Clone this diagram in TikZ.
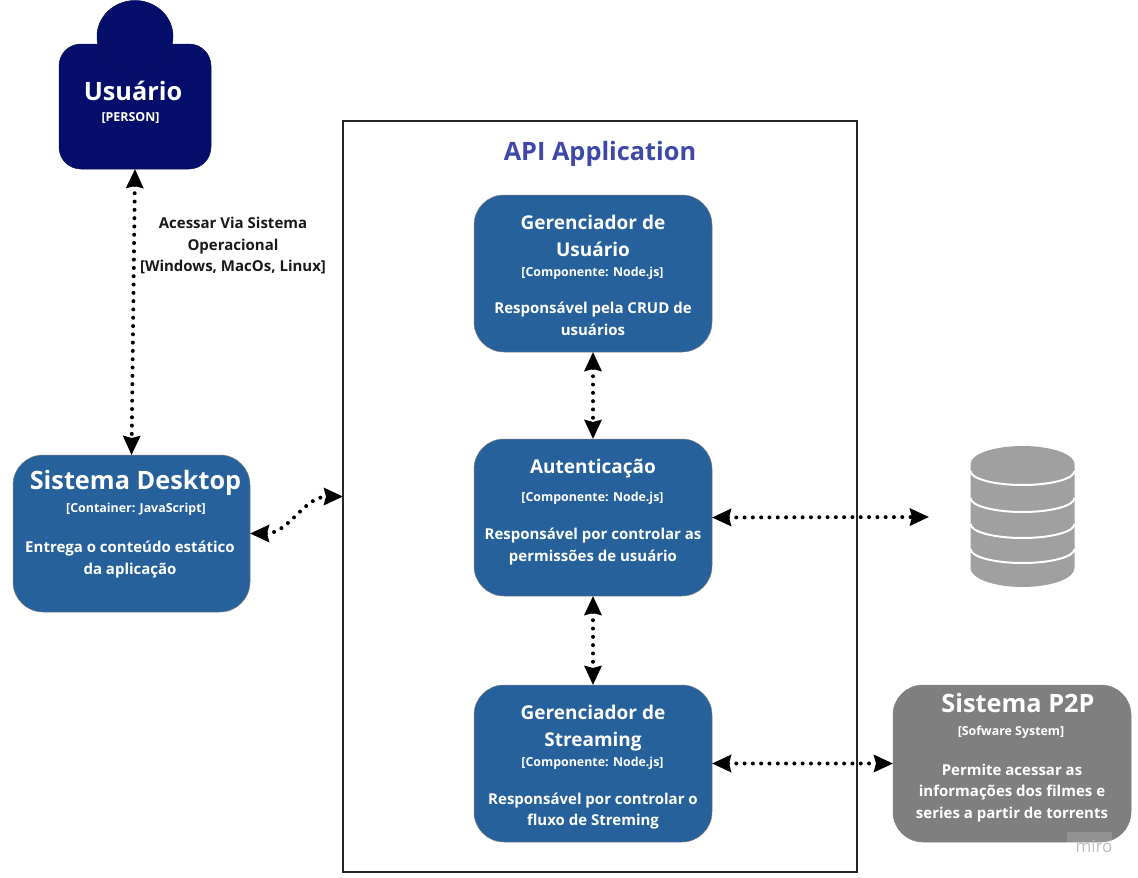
\documentclass[tikz,border=0pt]{standalone}
\usepackage{fontspec}
\setmainfont{Open Sans}
\usetikzlibrary{arrows.meta, shapes.geometric}
\definecolor{azulcaixa}{HTML}{26619C}
\definecolor{azulpessoa}{HTML}{050F6B}
\definecolor{cinzap2p}{HTML}{7F7F7F}
\definecolor{cinzabase}{HTML}{A0A0A0}
\definecolor{azulapi}{HTML}{3F48A8}
\begin{document}
\begin{tikzpicture}[x=1pt, y=1pt, yscale=-1]
	\tikzset{caixa/.style={draw=black!50, line width=0.5pt, fill=azulcaixa, rounded corners=30pt, minimum width=238pt, minimum height=157pt, outer sep=0pt},
		texto/.style={text=white, align=center, inner sep=0pt, font=\bfseries},
		grande/.style={texto, font=\bfseries\fontsize{25.3}{30}\selectfont},
		titulo/.style={texto, font=\bfseries\fontsize{19}{27}\selectfont},
		tipo/.style={texto, font=\bfseries\fontsize{12.4}{15}\selectfont},
		descricao/.style={texto, font=\bfseries\fontsize{15}{21.5}\selectfont},
		seta/.style={{Stealth[length=19pt, width=17pt, inset=2pt]}-{Stealth[length=19pt, width=17pt, inset=2pt]}, line width=4pt, line cap=round, dash pattern=on 0pt off 8.3pt, black}};

	\useasboundingbox (0,0) rectangle (1138,878);

	\node[draw=black!85, line width=2pt, minimum width=514pt, minimum height=751pt, outer sep=0pt] (api) at (600,496.5) {};
	\node[texto, text=azulapi, font=\bfseries\fontsize{25.3}{30}\selectfont] (apititulo) at (600,154) {API Application};

	\node[caixa, draw=azulpessoa!80!black, fill=azulpessoa, minimum width=152pt, minimum height=125pt, rounded corners=22pt] (usuario) at (135,106.5) {};
	\node[ellipse, draw=azulpessoa!80!black, line width=0.5pt, fill=azulpessoa, minimum width=76pt, minimum height=72pt, inner sep=0pt] (cabeca) at (135,36.5) {};
	\node[grande] (usuariotitulo) at (133,91) {Usuário};
	\node[tipo] (usuariotipo) at (130.5,118) {[PERSON]};

	\node[caixa, minimum width=237pt] (desktop) at (131.5,533.5) {};
	\node[grande] (desktoptitulo) at (135.5,483) {Sistema Desktop};
	\node[tipo] (desktoptipo) at (136,509) {[Container: JavaScript]};
	\node[descricao] (desktoptexto) at (130,559.5) {Entrega o conteúdo estático\\da aplicação};

	\node[caixa] (gerusuario) at (593,273.5) {};
	\node[titulo] (gerusuariotitulo) at (593,235.5) {Gerenciador de\\Usuário};
	\node[tipo] (gerusuariotipo) at (592.5,273) {[Componente: Node.js]};
	\node[descricao] (gerusuariotexto) at (593,319) {Responsável pela CRUD de\\usuários};

	\node[caixa] (autenticacao) at (593,517.5) {};
	\node[titulo] (autenticacaotitulo) at (593,469) {Autenticação};
	\node[tipo] (autenticacaotipo) at (592.5,498) {[Componente: Node.js]};
	\node[descricao] (autenticacaotexto) at (593,546.5) {Responsável por controlar as\\permissões de usuário};

	\node[caixa] (streaming) at (593,763.5) {};
	\node[titulo] (streamingtitulo) at (593,728.5) {Gerenciador de\\Streaming};
	\node[tipo] (streamingtipo) at (592.5,763) {[Componente: Node.js]};
	\node[descricao] (streamingtexto) at (593,811) {Responsável por controlar o\\fluxo de Streming};

	\node[caixa, fill=cinzap2p] (p2p) at (1012,763.5) {};
	\node[grande] (p2ptitulo) at (1018,703) {Sistema P2P};
	\node[tipo] (p2ptipo) at (1011,732) {[Sofware System]};
	\node[descricao] (p2ptexto) at (1012,793) {Permite acessar as\\informações dos filmes e\\series a partir de torrents};

	% base de dados
	\node[minimum width=187pt, minimum height=170pt, outer sep=0pt] (base) at (1022.5,517) {};
	\fill[cinzabase] (970.5,464) arc (180:360:52pt and 18pt) -- (1074.5,568) arc (0:180:52pt and 19pt) -- cycle;
	\foreach \y in {471, 498, 524, 549} {
		\draw[white, line width=2pt] (970.5,\y) arc (180:0:52pt and 14pt);
	}

	\node[texto, text=black!90, font=\bfseries\fontsize{15}{21.5}\selectfont] (acesso) at (233,245.5) {Acessar Via Sistema\\Operacional\\{}[Windows, MacOs, Linux]};

	\draw[seta] (usuario.south) -- (desktop.north);
	\draw[seta] (desktop.east) to[out=0, in=180] (api.west);
	\draw[seta] (gerusuario.south) -- (autenticacao.north);
	\draw[seta] (autenticacao.south) -- (streaming.north);
	\draw[seta] (autenticacao.east) -- (base.west);
	\draw[seta] (streaming.east) -- (p2p.west);

	\node[fill=white, fill opacity=0.15, minimum width=45pt, minimum height=23pt, inner sep=0pt] (marca) at (1089.5,843.5) {};
	\node[texto, text=black!25, font=\fontsize{17}{18}\selectfont] (miro) at (1094,846) {miro};

\end{tikzpicture}
\end{document}
